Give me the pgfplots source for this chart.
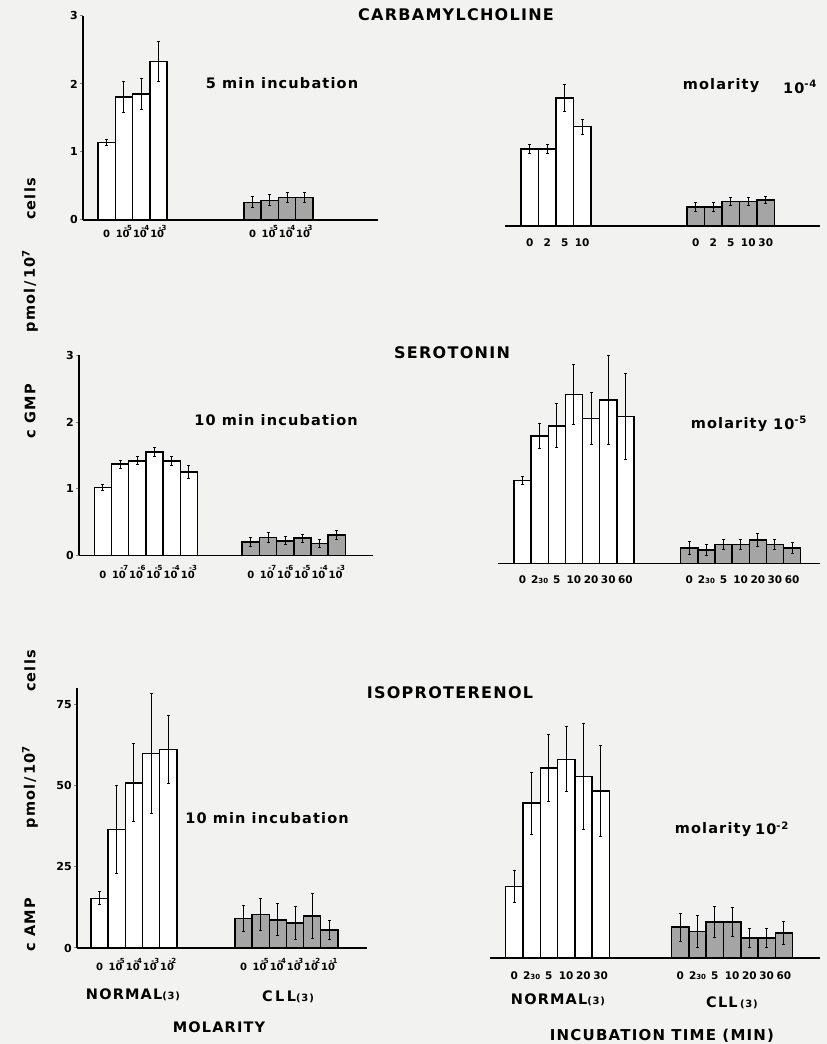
\documentclass[border=0pt]{standalone}
\usepackage{fontspec}
\setmainfont{DejaVu Sans}
\newfontfamily\spc[LetterSpace=8]{DejaVu Sans}
\usepackage{pgfplots}
\pgfplotsset{compat=1.18}
\definecolor{bg}{RGB}{242,242,240}
\definecolor{cll}{RGB}{165,165,165}
\newcommand{\TE}[1]{{\fontsize{10}{10}\selectfont 10}\kern-5.5pt\raisebox{7.6pt}{\fontsize{7}{7}\selectfont#1}}
\newcommand{\TZ}{{\fontsize{10}{10}\selectfont 0}\vphantom{\raisebox{7.6pt}{\fontsize{7}{7}\selectfont 5}}}
\newcommand{\TT}{2{\fontsize{7}{7}\selectfont 30}}
\pgfplotsset{
 panel/.style={
  ybar, bar width=1, /pgf/bar shift=0pt, clip=false, anchor=south west, ymin=0,
  axis x line*=bottom, axis line style={-, line width=1.5pt},
  xtick style={draw=none},
  xticklabel style={font=\fontsize{10.5}{10.5}\selectfont\bfseries, inner sep=0pt},
  yticklabel style={font=\fontsize{11}{11}\selectfont\bfseries, inner sep=2pt},
  /pgf/number format/assume math mode=true,
  tick align=outside, major tick length=3pt, ytick style={line width=1pt},
 },
 lefty/.style={axis y line*=left},
 noy/.style={axis y line=none},
 nb/.style={draw=black, fill=white, line width=1.5pt, error bars/.cd, y dir=both, y explicit,
   error bar style={line width=1pt}, error mark options={rotate=90, mark size=1.5pt, line width=1pt}},
 cb/.style={draw=black, fill=cll, line width=1.5pt, error bars/.cd, y dir=both, y explicit,
   error bar style={line width=1pt}, error mark options={rotate=90, mark size=1.5pt, line width=1pt}},
}
\begin{document}
\begin{tikzpicture}
\fill[bg] (0,0) rectangle (827pt,1044pt);

% ---------------- CARBAMYLCHOLINE, molarity
\begin{axis}[panel, lefty, at={(83pt,824pt)}, x=17.25pt, y=68pt,
  xmin=-1.37, xmax=15.73, ymax=3, ytick={0,1,2,3},
  xtick={0,1,2,3,8.46,9.46,10.46,11.46},
  xticklabels={\TZ,\TE{-5},\TE{-4},\TE{-3},\TZ,\TE{-5},\TE{-4},\TE{-3}},
  xticklabel style={yshift=-2pt}]
\addplot[nb] coordinates {(0,1.14)+-(0,0.05) (1,1.81)+-(0,0.23) (2,1.85)+-(0,0.23) (3,2.33)+-(0,0.29)};
\addplot[cb] coordinates {(8.46,0.26)+-(0,0.08) (9.46,0.29)+-(0,0.08) (10.46,0.33)+-(0,0.08) (11.46,0.33)+-(0,0.08)};
\end{axis}

% ---------------- CARBAMYLCHOLINE, time
\begin{axis}[panel, noy, at={(505pt,818pt)}, x=17.5pt, y=68pt,
  xmin=-1.41, xmax=16.59, ymax=3,
  xtick={0,1,2,3,9.49,10.49,11.49,12.49,13.49},
  xticklabels={0,2,5,10,0,2,5,10,30},
  xticklabel style={yshift=-10pt}]
\addplot[nb] coordinates {(0,1.13)+-(0,0.07) (1,1.13)+-(0,0.07) (2,1.88)+-(0,0.2) (3,1.46)+-(0,0.11)};
\addplot[cb] coordinates {(9.49,0.28)+-(0,0.07) (10.49,0.28)+-(0,0.07) (11.49,0.36)+-(0,0.06) (12.49,0.36)+-(0,0.06) (13.49,0.38)+-(0,0.05)};
\end{axis}

% ---------------- SEROTONIN, molarity
\begin{axis}[panel, lefty, at={(79pt,488.5pt)}, x=17.2pt, y=66.7pt,
  xmin=-1.39, xmax=15.7, ymax=3, ytick={0,1,2,3},
  xtick={0,1,2,3,4,5,8.6,9.6,10.6,11.6,12.6,13.6},
  xticklabels={\TZ,\TE{-7},\TE{-6},\TE{-5},\TE{-4},\TE{-3},\TZ,\TE{-7},\TE{-6},\TE{-5},\TE{-4},\TE{-3}},
  xticklabel style={yshift=-7pt}]
\addplot[nb] coordinates {(0,1.02)+-(0,0.05) (1,1.37)+-(0,0.06) (2,1.42)+-(0,0.06) (3,1.55)+-(0,0.07) (4,1.42)+-(0,0.07) (5,1.25)+-(0,0.1)};
\addplot[cb] coordinates {(8.6,0.2)+-(0,0.07) (9.6,0.27)+-(0,0.07) (10.6,0.22)+-(0,0.06) (11.6,0.26)+-(0,0.06) (12.6,0.18)+-(0,0.06) (13.6,0.31)+-(0,0.07)};
\end{axis}

% ---------------- SEROTONIN, time
\begin{axis}[panel, noy, at={(498pt,480.7pt)}, x=17.15pt, y=66.7pt,
  xmin=-1.43, xmax=17.34, ymax=3,
  xtick={0,1,2,3,4,5,6,9.72,10.72,11.72,12.72,13.72,14.72,15.72},
  xticklabels={0,\TT,5,10,20,30,60,0,\TT,5,10,20,30,60},
  xticklabel style={yshift=-9pt}]
\addplot[nb] coordinates {(0,1.24)+-(0,0.06) (1,1.91)+-(0,0.19) (2,2.06)+-(0,0.33) (3,2.53)+-(0,0.45) (4,2.17)+-(0,0.39) (5,2.45)+-(0,0.67) (6,2.2)+-(0,0.65)};
\addplot[cb] coordinates {(9.72,0.23)+-(0,0.1) (10.72,0.2)+-(0,0.08) (11.72,0.28)+-(0,0.08) (12.72,0.28)+-(0,0.08) (13.72,0.35)+-(0,0.1) (14.72,0.28)+-(0,0.08) (15.72,0.23)+-(0,0.08)};
\end{axis}

% ---------------- ISOPROTERENOL, molarity
\begin{axis}[panel, lefty, at={(77pt,96pt)}, x=17.14pt, y=3.245pt,
  xmin=-1.32, xmax=15.6, ymax=80, ytick={0,25,50,75},
  xtick={0,1,2,3,4,8.4,9.4,10.4,11.4,12.4,13.4},
  xticklabels={\TZ,\TE{-5},\TE{-4},\TE{-3},\TE{-2},\TZ,\TE{-5},\TE{-4},\TE{-3},\TE{-2},\TE{-1}},
  xticklabel style={yshift=-7pt}]
\addplot[nb] coordinates {(0,15.3)+-(0,2) (1,36.5)+-(0,13.5) (2,50.9)+-(0,12) (3,60)+-(0,18.5) (4,61.1)+-(0,10.5)};
\addplot[cb] coordinates {(8.4,9.1)+-(0,4) (9.4,10.3)+-(0,5) (10.4,8.7)+-(0,5) (11.4,7.7)+-(0,5) (12.4,9.8)+-(0,7) (13.4,5.5)+-(0,3)};
\end{axis}

% ---------------- ISOPROTERENOL, time
\begin{axis}[panel, noy, at={(490pt,86pt)}, x=17.27pt, y=3.245pt,
  xmin=-1.41, xmax=17.7, ymax=80,
  xtick={0,1,2,3,4,5,9.61,10.61,11.61,12.61,13.61,14.61,15.61},
  xticklabels={0,\TT,5,10,20,30,0,\TT,5,10,20,30,60},
  xticklabel style={yshift=-11pt}]
\addplot[nb] coordinates {(0,22)+-(0,5) (1,47.7)+-(0,9.6) (2,58.5)+-(0,10.4) (3,61.2)+-(0,10) (4,56)+-(0,16.3) (5,51.5)+-(0,14)};
\addplot[cb] coordinates {(9.61,9.5)+-(0,4.3) (10.61,8.2)+-(0,5) (11.61,11.1)+-(0,4.8) (12.61,11.1)+-(0,4.6) (13.61,6.2)+-(0,3) (14.61,6.2)+-(0,3) (15.61,7.7)+-(0,3.6)};
\end{axis}

% ---------------- texts
\begin{scope}[every node/.style={font=\spc\bfseries\fontsize{14.5}{14.5}\selectfont, inner sep=0pt}]
\node at (456pt,1029pt) {\fontsize{16}{16}\selectfont CARBAMYLCHOLINE};
\node at (452pt,691pt) {\fontsize{16}{16}\selectfont SEROTONIN};
\node at (450pt,351pt) {\fontsize{16}{16}\selectfont ISOPROTERENOL};
\node at (282pt,961pt) {5 min incubation};
\node at (721pt,958pt) {molarity};
\node at (800pt,957pt) {10\textsuperscript{-4}};
\node at (276pt,624pt) {10 min incubation};
\node at (729pt,619pt) {molarity};
\node at (790pt,621pt) {10\textsuperscript{-5}};
\node at (267pt,226pt) {10 min incubation};
\node at (713pt,214pt) {molarity};
\node at (772pt,216pt) {10\textsuperscript{-2}};
\node at (133pt,49pt) {NORMAL{\fontsize{10}{10}\selectfont(3)}};
\node at (288pt,47pt) {C\,L\,L{\fontsize{10}{10}\selectfont(3)}};
\node at (219pt,17pt) {MOLARITY};
\node at (558pt,44pt) {NORMAL{\fontsize{10}{10}\selectfont(3)}};
\node at (732pt,41pt) {CLL\,{\fontsize{10}{10}\selectfont(3)}};
\node at (662pt,8pt) {\fontsize{15}{15}\selectfont INCUBATION TIME (MIN)};
\node[rotate=90] at (30pt,633pt) {c GMP};
\node[rotate=90] at (30pt,753pt) {pmol\,/\,10\textsuperscript{7}};
\node[rotate=90] at (30pt,845pt) {cells};
\node[rotate=90] at (30pt,119pt) {c AMP};
\node[rotate=90] at (30pt,257pt) {pmol\,/\,10\textsuperscript{7}};
\node[rotate=90] at (30pt,373pt) {cells};
\end{scope}
\end{tikzpicture}
\end{document}
